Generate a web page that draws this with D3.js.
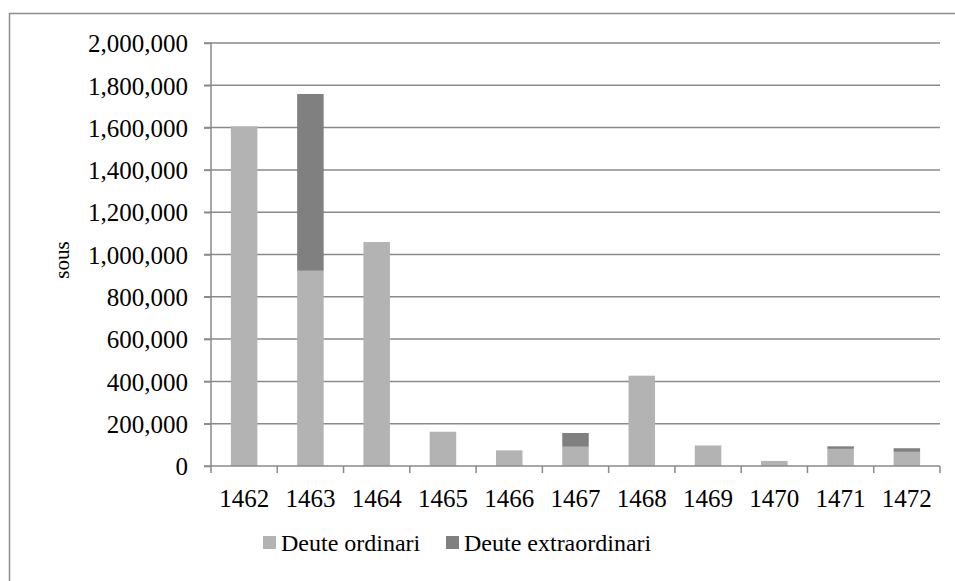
<!DOCTYPE html>
<html>
<head>
<meta charset="utf-8">
<script src="https://cdn.jsdelivr.net/npm/d3@7"></script>
<style>
body { margin: 0; background: #fff; }
</style>
</head>
<body>
<div id="plot"></div>
<script>
var years = ["1462", "1463", "1464", "1465", "1466", "1467", "1468", "1469", "1470", "1471", "1472"];
var ordinari = [1606000, 923000, 1059000, 162000, 74000, 91000, 427000, 97000, 24000, 81000, 67000];
var extraordinari = [0, 836000, 0, 0, 0, 65000, 0, 0, 0, 12000, 17000];
var seriesNames = ["Deute ordinari", "Deute extraordinari"];
var seriesColors = ["#b3b3b3", "#808080"];
var yTicks = [0, 200000, 400000, 600000, 800000, 1000000, 1200000, 1400000, 1600000, 1800000, 2000000];

var FONT = "'Liberation Serif', 'Times New Roman', Times, serif";
var W = 955, H = 581;
var margin = {top: 43, left: 211};
var width = 940 - margin.left, height = 466 - margin.top;

var svg = d3.select("#plot").append("svg")
    .attr("width", W)
    .attr("height", H)
    .attr("font-family", FONT);

// chart border
svg.append("rect")
    .attr("x", 9.5).attr("y", 13.5)
    .attr("width", W).attr("height", H)
    .style("fill", "none")
    .style("stroke", "#8c8c8c")
    .style("stroke-width", 1.5);

var g = svg.append("g")
    .attr("transform", "translate(" + margin.left + "," + margin.top + ")");

var x = d3.scaleBand().domain(years).range([0, width]).paddingInner(0.6).paddingOuter(0.3);
var xTick = d3.scaleBand().domain(years).range([0, width]);
var y = d3.scaleLinear().domain([0, 2000000]).range([height, 0]);

// grid
g.selectAll(".grid")
    .data(yTicks.slice(1))
    .enter().append("line")
    .attr("x1", -7).attr("x2", width)
    .attr("y1", function(d) { return y(d); })
    .attr("y2", function(d) { return y(d); })
    .style("stroke", "#8a8a8a")
    .style("stroke-width", 1.5);

var table = years.map(function(yr, i) {
    return {year: yr, "Deute ordinari": ordinari[i], "Deute extraordinari": extraordinari[i]};
});
var stack = d3.stack().keys(seriesNames)(table);

g.selectAll(".serie")
    .data(stack)
    .enter().append("g")
    .style("fill", function(d, i) { return seriesColors[i]; })
    .selectAll("rect")
    .data(function(d) { return d; })
    .enter().append("rect")
    .attr("x", function(d) { return x(d.data.year); })
    .attr("width", x.bandwidth())
    .attr("y", function(d) { return y(d[1]); })
    .attr("height", function(d) { return y(d[0]) - y(d[1]); });

// y axis
var yAxis = g.append("g")
    .call(d3.axisLeft(y).tickValues(yTicks).tickSize(7).tickPadding(16).tickFormat(d3.format(",")))
    .attr("font-family", FONT);
yAxis.select(".domain").remove();
yAxis.selectAll("line").style("stroke", "#8a8a8a").style("stroke-width", 1.5);
yAxis.selectAll("text").style("font-size", "25px").style("fill", "#000").attr("dy", "0.35em");
g.append("line")
    .attr("x1", 0).attr("x2", 0).attr("y1", 0).attr("y2", height + 7)
    .style("stroke", "#8a8a8a").style("stroke-width", 1.5);

// x axis
var xAxis = g.append("g")
    .attr("transform", "translate(0," + height + ")");
xAxis.append("line")
    .attr("x1", -7).attr("x2", width)
    .style("stroke", "#8a8a8a").style("stroke-width", 1.5);
xAxis.selectAll(".tick")
    .data(years.slice(1).concat(["end"]))
    .enter().append("line")
    .attr("x1", function(d, i) { return xTick.step() * (i + 1); })
    .attr("x2", function(d, i) { return xTick.step() * (i + 1); })
    .attr("y1", 0).attr("y2", 7)
    .style("stroke", "#8a8a8a").style("stroke-width", 1.5);
xAxis.selectAll(".lab")
    .data(years)
    .enter().append("text")
    .attr("x", function(d) { return xTick(d) + xTick.bandwidth() / 2; })
    .attr("y", 32)
    .attr("dy", "0.35em")
    .style("text-anchor", "middle")
    .style("font-size", "25px")
    .text(function(d) { return d; });

// y label
svg.append("text")
    .attr("transform", "translate(62,260) rotate(-90)")
    .attr("dy", "0.35em")
    .style("text-anchor", "middle")
    .style("font-size", "21px")
    .text("sous");

// legend
var legendX = [263, 446];
var legend = svg.selectAll(".legend")
    .data(seriesNames)
    .enter().append("g")
    .attr("transform", function(d, i) { return "translate(" + legendX[i] + ",543)"; });
legend.append("rect")
    .attr("x", 0).attr("y", -7)
    .attr("width", 13).attr("height", 13)
    .style("fill", function(d, i) { return seriesColors[i]; });
legend.append("text")
    .attr("x", 18)
    .attr("dy", "0.35em")
    .style("font-size", "24px")
    .text(function(d) { return d; });
</script>
</body>
</html>
